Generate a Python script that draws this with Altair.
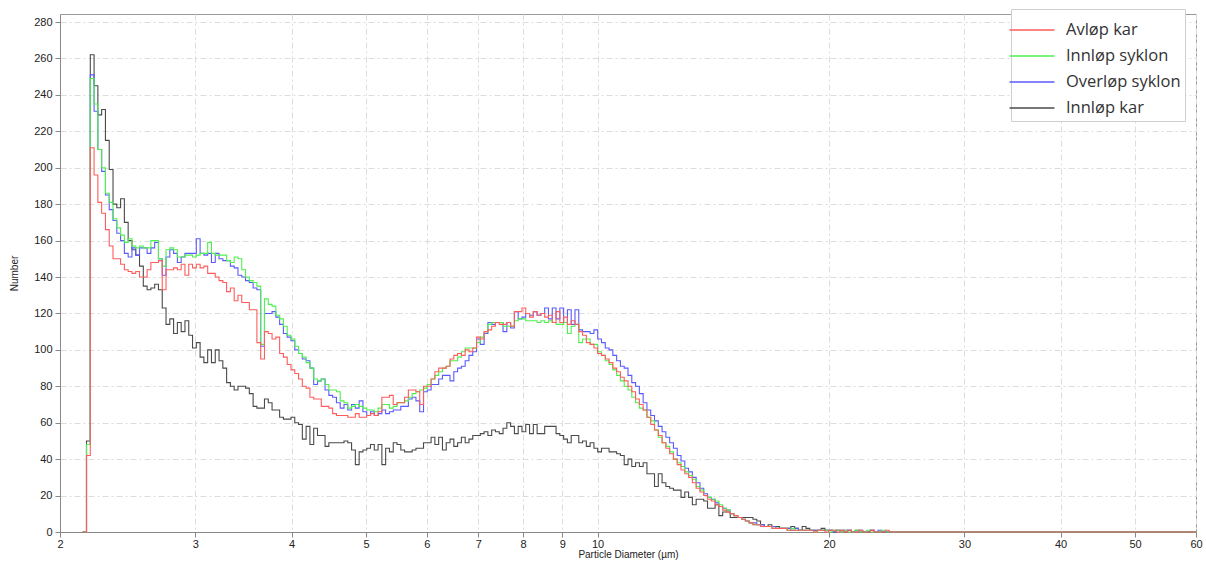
import altair as alt
import pandas as pd

# ---- instrument bins: 300 log-spaced channels between 2 and 60 µm ----
N_BINS = 300
X_MIN, X_MAX = 2.0, 60.0
FIRST_BIN = 7  # first channel with counts

# ---- counts per channel, bins 7..199 ----
avlop_kar = [
    42, 211, 196,
    181, 175, 166, 157, 150, 150, 147, 144, 143, 142,
    143, 140, 140, 144, 148, 148, 149, 133, 144, 144,
    145, 144, 147, 141, 147, 145, 147, 145, 146, 142,
    142, 140, 138, 137, 132, 134, 127, 130, 126, 126,
    122, 122, 104, 95, 110, 109, 106, 107, 98, 96,
    92, 89, 87, 84, 80, 79, 74, 73, 73, 69,
    69, 68, 65, 64, 64, 64, 63, 63, 65, 63,
    63, 64, 65, 64, 66, 74, 74, 75, 70, 71,
    71, 74, 78, 78, 77, 70, 80, 80, 84, 88,
    90, 90, 91, 95, 97, 98, 97, 100, 99, 101,
    107, 106, 110, 111, 113, 115, 114, 114, 115, 113,
    121, 121, 123, 120, 118, 121, 119, 120, 118, 119,
    115, 121, 115, 118, 114, 116, 114, 110, 108, 104,
    103, 101, 98, 97, 95, 93, 90, 88, 85, 83,
    80, 77, 73, 70, 67, 63, 59, 56, 53, 49,
    46, 43, 40, 37, 34, 32, 30, 27, 24, 22,
    20, 18, 17, 15, 14, 12, 11, 10, 9, 8,
    7, 6, 5, 4, 4, 3, 3, 3, 2, 2,
    2, 2, 1, 1, 1, 1, 1, 1, 1, 0,
]
innlop_syklon = [
    48, 249, 235,
    210, 200, 186, 181, 172, 167, 163, 159, 161, 157,
    156, 157, 156, 156, 160, 160, 150, 146, 155, 156,
    155, 151, 151, 152, 152, 151, 152, 153, 153, 159,
    153, 152, 152, 152, 149, 148, 151, 150, 144, 140,
    138, 137, 135, 103, 128, 125, 124, 119, 117, 113,
    108, 106, 102, 98, 96, 93, 90, 84, 83, 84,
    81, 78, 78, 77, 72, 71, 68, 69, 70, 69,
    68, 67, 67, 66, 68, 70, 70, 68, 69, 71,
    71, 72, 74, 76, 77, 78, 79, 81, 84, 86,
    88, 90, 91, 94, 94, 96, 99, 101, 101, 101,
    104, 107, 110, 114, 115, 115, 115, 113, 113, 113,
    116, 117, 117, 116, 116, 116, 115, 116, 115, 116,
    115, 114, 114, 115, 109, 113, 114, 104, 106, 106,
    103, 103, 99, 97, 94, 92, 89, 86, 83, 80,
    78, 74, 71, 68, 67, 63, 61, 56, 52, 49,
    47, 44, 40, 38, 36, 33, 31, 29, 25, 23,
    20, 19, 18, 17, 15, 13, 12, 10, 9, 8,
    7, 6, 5, 4, 4, 3, 3, 3, 2, 2,
    2, 2, 1, 2, 1, 1, 1, 1, 1, 0,
]
overlop_syklon = [
    48, 251, 231,
    210, 198, 185, 177, 171, 164, 160, 153, 151, 156,
    152, 156, 156, 153, 156, 159, 150, 141, 151, 155,
    153, 148, 151, 153, 153, 153, 161, 153, 152, 153,
    148, 153, 150, 149, 149, 146, 145, 141, 140, 138,
    137, 134, 133, 102, 120, 120, 121, 118, 114, 109,
    107, 105, 100, 98, 95, 94, 90, 81, 83, 84,
    78, 75, 74, 71, 68, 70, 67, 70, 68, 72,
    66, 64, 66, 64, 65, 67, 65, 66, 67, 67,
    69, 69, 73, 74, 72, 66, 77, 78, 81, 81,
    84, 86, 86, 83, 88, 90, 91, 94, 97, 99,
    106, 103, 109, 115, 114, 115, 115, 110, 115, 112,
    121, 117, 118, 120, 119, 121, 119, 120, 123, 117,
    123, 117, 123, 115, 122, 114, 122, 111, 110, 110,
    109, 111, 106, 104, 101, 100, 97, 94, 91, 90,
    86, 82, 80, 76, 71, 67, 64, 61, 58, 55,
    52, 49, 46, 42, 39, 35, 33, 30, 27, 24,
    21, 19, 18, 16, 14, 13, 12, 10, 9, 8,
    7, 6, 5, 5, 4, 4, 3, 3, 3, 2,
    2, 2, 2, 1, 2, 1, 1, 1, 1, 1,
]
innlop_kar = [
    50, 262, 245,
    229, 232, 215, 199, 180, 178, 183, 170, 160, 155,
    152, 146, 135, 133, 134, 136, 133, 123, 114, 117,
    109, 115, 110, 116, 108, 101, 104, 96, 93, 100,
    93, 100, 94, 90, 82, 80, 78, 80, 80, 79,
    76, 69, 68, 68, 73, 71, 67, 67, 63, 62,
    62, 63, 60, 59, 51, 58, 48, 57, 53, 53,
    47, 49, 49, 49, 49, 50, 49, 45, 37, 44,
    45, 46, 48, 45, 48, 37, 46, 44, 49, 48,
    45, 44, 44, 45, 46, 46, 49, 49, 52, 48,
    52, 45, 49, 51, 47, 49, 52, 49, 51, 53,
    53, 54, 55, 53, 56, 55, 54, 57, 60, 58,
    54, 58, 55, 59, 54, 59, 54, 54, 58, 58,
    58, 54, 53, 51, 49, 53, 53, 49, 50, 47,
    49, 46, 44, 46, 46, 44, 44, 43, 42, 37,
    40, 36, 38, 36, 38, 32, 32, 25, 32, 27,
    25, 24, 23, 23, 19, 22, 19, 15, 18, 18,
    17, 13, 13, 15, 9, 11, 11, 8, 8, 8,
    8, 8, 8, 7, 6, 4, 3, 4, 3, 3,
    2, 2, 2, 3, 2, 1, 3, 2, 1, 1,
]

# bins 200..219 (tail), after that empty channels up to 60 µm
tail_avlop_kar = [1, 1, 0, 1, 1, 0, 1, 0, 1, 0, 0, 1, 0, 0, 1, 0, 0, 0, 1, 0]
tail_innlop_syklon = [1, 1, 1, 0, 1, 1, 0, 1, 0, 0, 1, 0, 0, 1, 0, 0, 0, 1, 0, 0]
tail_overlop_syklon = [1, 1, 1, 1, 0, 1, 0, 1, 1, 0, 0, 1, 0, 0, 1, 0, 1, 0, 0, 0]
tail_innlop_kar = [1, 2, 1, 1, 0, 1, 1, 0, 1, 0, 1, 0, 0, 0, 1, 0, 0, 0, 0, 0]

legend_names = ["Avløp kar", "Innløp syklon", "Overløp syklon", "Innløp kar"]
legend_colors = ["#ff5c5c", "#4ff04f", "#5a5aff", "#4a4a4a"]
draw_order = ["Innløp kar", "Overløp syklon", "Innløp syklon", "Avløp kar"]

series = {
    "Avløp kar": avlop_kar + tail_avlop_kar,
    "Innløp syklon": innlop_syklon + tail_innlop_syklon,
    "Overløp syklon": overlop_syklon + tail_overlop_syklon,
    "Innløp kar": innlop_kar + tail_innlop_kar,
}


def edge(k):
    return X_MIN * (X_MAX / X_MIN) ** (k / N_BINS)


rows = []
for name, vals in series.items():
    counts = [0] + vals  # channel FIRST_BIN-1 is empty
    counts = counts + [0] * (N_BINS - (FIRST_BIN - 1) - len(counts))
    for i, v in enumerate(counts):
        rows.append({"series": name, "d": edge(FIRST_BIN - 1 + i), "n": v})
    rows.append({"series": name, "d": edge(N_BINS), "n": counts[-1]})
df = pd.DataFrame(rows)

x_ticks = [2, 3, 4, 5, 6, 7, 8, 9, 10, 20, 30, 40, 50, 60]
y_ticks = list(range(0, 281, 20))

x_enc = alt.X(
    "d:Q",
    scale=alt.Scale(type="log", domain=[2, 60], nice=False),
    axis=alt.Axis(
        values=x_ticks, format="d", labelOverlap=False, labelFlush=False,
        title="Particle Diameter (µm)", titleFontSize=10, titleFontWeight="normal",
        titleColor="#222", titleFont="Liberation Sans", titleBaseline="alphabetic", titleY=25,
        labelFontSize=11, labelFont="Liberation Sans", labelColor="#222", labelPadding=1,
        tickSize=5, tickColor="#888", domainColor="#888",
        grid=True, gridColor="#dcdcdc", gridDash=[6, 3, 2, 3],
    ),
)
y_enc = alt.Y(
    "n:Q",
    scale=alt.Scale(domain=[0, 284.4], nice=False, zero=True),
    axis=alt.Axis(
        values=y_ticks, title="Number", titleFontSize=10, titleFontWeight="normal",
        titleColor="#222", titleFont="Liberation Sans", titlePadding=14,
        labelFontSize=11, labelFont="Liberation Sans", labelColor="#222", labelPadding=3,
        tickSize=5, tickColor="#888", domainColor="#888",
        grid=True, gridColor="#dcdcdc", gridDash=[6, 3, 2, 3],
    ),
)
color_enc = alt.Color(
    "series:N",
    scale=alt.Scale(domain=legend_names, range=legend_colors),
    legend=alt.Legend(
        title=None, orient="none", legendX=951, legendY=-5, direction="vertical",
        symbolType="M-1.42,0L1.42,0", symbolSize=1000, symbolStrokeWidth=1.6,
        symbolFillColor="transparent",
        labelFontSize=16.5, labelFont="Open Sans", labelColor="#333",
        labelOffset=17, rowPadding=0, padding=4,
        strokeColor="#cfcfcf", fillColor="white", labelLimit=300,
    ),
)

layers = []
for name in draw_order:
    layers.append(
        alt.Chart(df)
        .transform_filter(alt.datum.series == name)
        .mark_line(interpolate="step-after", strokeWidth=1.1)
        .encode(x=x_enc, y=y_enc, color=color_enc)
    )

chart = (
    alt.layer(*layers)
    .properties(
        width=1136, height=518,
        autosize=alt.AutoSizeParams(type="none"),
        padding={"left": 60, "top": 14, "right": 10, "bottom": 31},
        background="white",
    )
    .configure_view(stroke="#999", strokeWidth=1)
)

chart.save("out.html", embed_options={"renderer": "svg", "actions": False})
